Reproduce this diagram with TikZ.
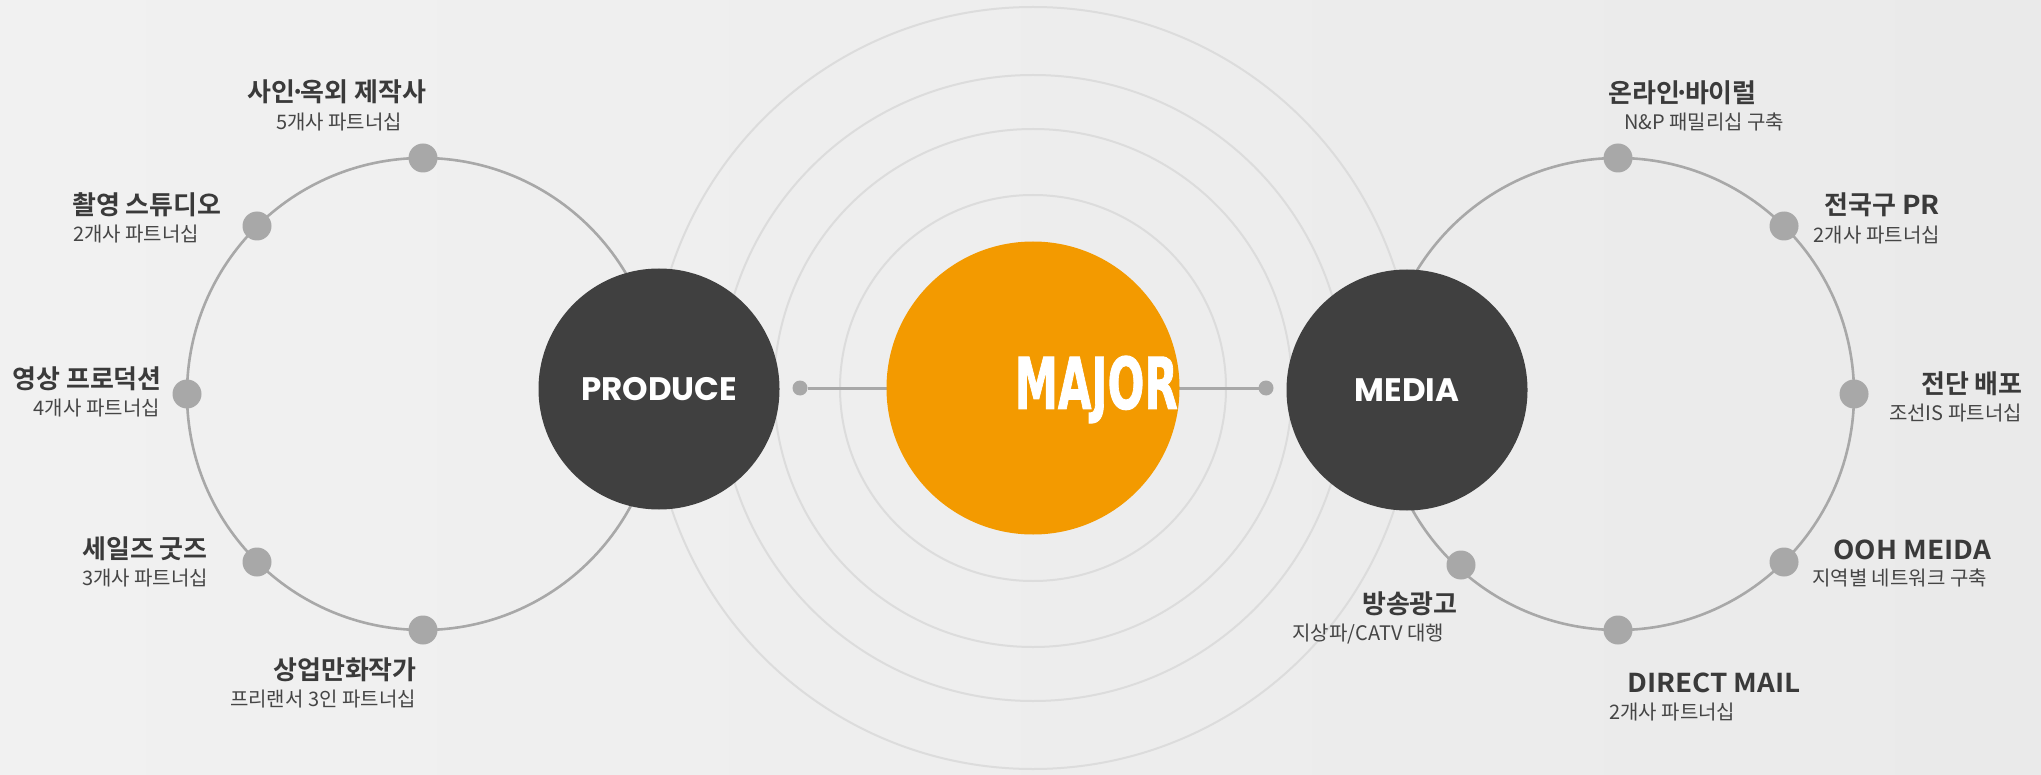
\documentclass[tikz,border=0pt]{standalone}
\usepackage{fontspec}
\setmainfont{Noto Sans CJK KR}[BoldFont={Noto Sans CJK KR Bold}]
\newfontfamily\popfont{Poppins}[BoldFont={Poppins Bold}]
\newfontfamily\majfont{DejaVu Sans}[BoldFont={DejaVu Sans Bold}, BoldFeatures={FakeBold=1.5}]
\definecolor{bgL}{HTML}{F1F1F1}
\definecolor{bgR}{HTML}{EAEAEA}
\definecolor{ringc}{HTML}{DCDCDC}
\definecolor{greyc}{HTML}{A8A8A8}
\definecolor{darkc}{HTML}{404040}
\definecolor{orangec}{HTML}{F39A00}
\definecolor{headc}{HTML}{3A3A3A}
\definecolor{subc}{HTML}{454545}
\newcommand\mdot{\kern-0.2em\char"00B7\kern-0.2em}
\newcommand\lat[1]{\scalebox{1.07}[1]{\fontsize{26}{30}\selectfont #1}}
\tikzset{
  ring/.style={circle, draw=ringc, line width=2pt, inner sep=0pt, outer sep=0pt},
  bigring/.style={circle, draw=greyc, line width=2.6pt, inner sep=0pt, outer sep=0pt, minimum size=472pt},
  gdot/.style={circle, fill=greyc, inner sep=0pt, outer sep=0pt, minimum size=29pt},
  sdot/.style={circle, fill=greyc, inner sep=0pt, outer sep=0pt, minimum size=15pt},
  conn/.style={draw=greyc, line width=3pt},
  hub/.style={circle, fill=darkc, inner sep=0pt, minimum size=241pt, text=white, font=\popfont\bfseries\fontsize{32.5}{36}\selectfont},
  head/.style={inner sep=0pt, text=headc, font=\bfseries\fontsize{26}{30}\selectfont},
  sub/.style={inner sep=0pt, text=subc, font=\fontsize{20}{24}\selectfont},
}
\begin{document}
\begin{tikzpicture}[x=1pt,y=-1pt]
\useasboundingbox (0,0) rectangle (2041,775);
\shade[left color=bgL, right color=bgR] (0,0) rectangle (2041,775);
% concentric rings
\node[ring, minimum size=762pt] (r1) at (1033,388) {};
\node[ring, minimum size=626pt] (r2) at (1033,388) {};
\node[ring, minimum size=518pt] (r3) at (1033,388) {};
\node[ring, minimum size=386pt] (r4) at (1033,388) {};
% big grey circles
\node[bigring] (pc) at (423,394) {};
\node[bigring] (mc) at (1618,394) {};
\node[gdot] (pa) at (423,158) {};
\node[gdot] (pb) at (257,226) {};
\node[gdot] (pcc) at (187,394) {};
\node[gdot] (pd) at (257,562) {};
\node[gdot] (pe) at (423,630) {};
\node[gdot] (ma) at (1618,158) {};
\node[gdot] (mb) at (1784,226) {};
\node[gdot] (mcc) at (1854,394) {};
\node[gdot] (md) at (1784,562) {};
\node[gdot] (me) at (1618,630) {};
\node[gdot] (mf) at (1461,565) {};
% connector
\node[sdot] (dl) at (800,388) {};
\node[sdot] (dr) at (1266,388) {};
\draw[conn] (dl) -- (dr);
% hubs
\node[hub] (produce) at (659,389) {PRODUCE};
\node[hub] (media) at (1407,390) {MEDIA};
\node[circle, fill=orangec, inner sep=0pt, minimum size=293pt] (major) at (1033,388) {};
\node[anchor=east, inner sep=0pt, text=white] (majort) at (1178,389.5) {\resizebox{163pt}{53pt}{\majfont\bfseries MAJOR}};
% left labels
\node[head] (t1) at (337,92) {사인\mdot 옥외 제작사};
\node[sub] (s1) at (339,122) {5개사 파트너십};
\node[head, anchor=west] (t2) at (72,204.5) {촬영 스튜디오};
\node[sub, anchor=west] (s2) at (73,234) {2개사 파트너십};
\node[head, anchor=east] (t3) at (162,378.5) {영상 프로덕션};
\node[sub, anchor=east] (s3) at (160,408.5) {4개사 파트너십};
\node[head, anchor=west] (t4) at (82,549) {세일즈 굿즈};
\node[sub, anchor=west] (s4) at (82,578.5) {3개사 파트너십};
\node[head, anchor=east] (t5) at (417,670) {상업만화작가};
\node[sub, anchor=east] (s5) at (416,699.5) {프리랜서 3인 파트너십};
% right labels
\node[head, anchor=west] (t6) at (1608,92.5) {온라인\mdot 바이럴};
\node[sub, anchor=west] (s6) at (1624,122) {N\&P 패밀리십 구축};
\node[head, anchor=east] (t7) at (1940,205) {전국구 \lat{PR}};
\node[sub, anchor=east] (s7) at (1940,235) {2개사 파트너십};
\node[head, anchor=east] (t8) at (2023,384) {전단 배포};
\node[sub, anchor=east] (s8) at (2022,413.5) {조선IS 파트너십};
\node[head, anchor=east] (t9) at (1991,549.5) {\lat{OOH MEIDA}};
\node[sub, anchor=east] (s9) at (1987,577.5) {지역별 네트워크 구축};
\node[head, anchor=east] (t10) at (1458,604) {방송광고};
\node[sub, anchor=east] (s10) at (1444,634) {지상파/CATV 대행};
\node[head, anchor=west] (t11) at (1627,682.5) {\lat{DIRECT MAIL}};
\node[sub, anchor=west] (s11) at (1609,712.5) {2개사 파트너십};
\end{tikzpicture}
\end{document}
